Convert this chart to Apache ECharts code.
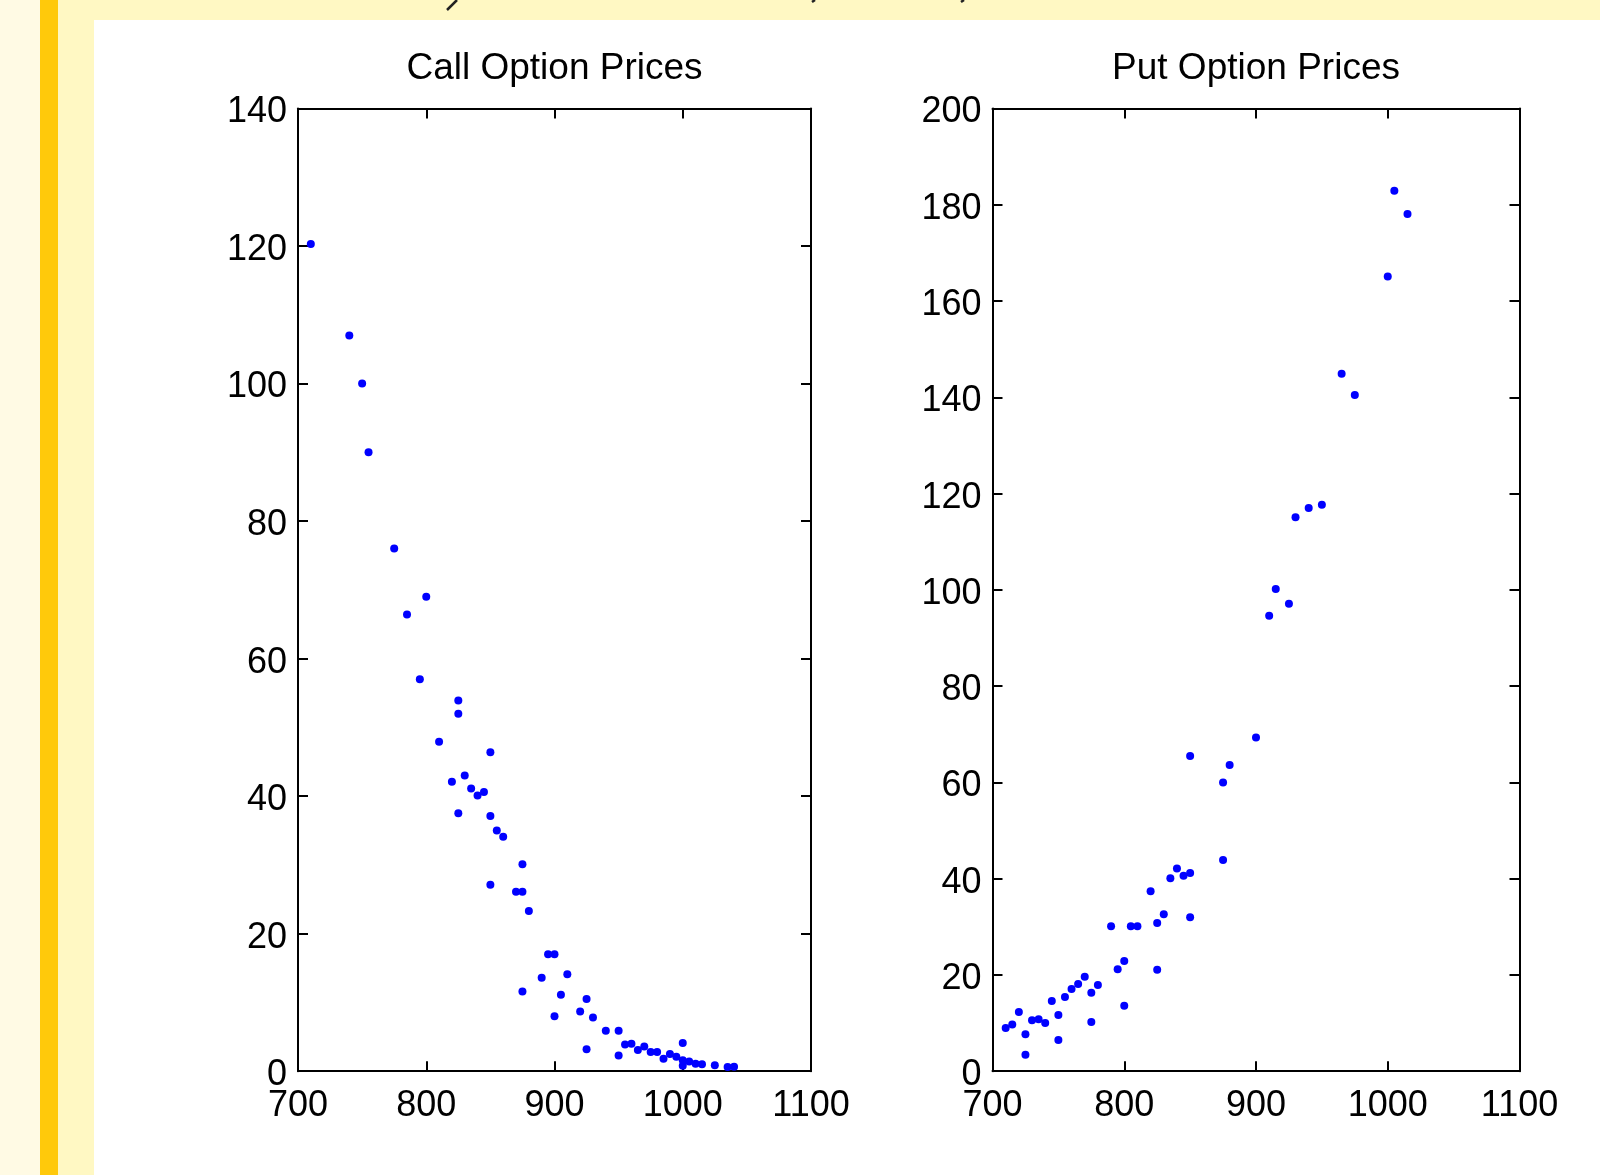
<!DOCTYPE html>
<html><head><meta charset="utf-8">
<script src="https://cdn.jsdelivr.net/npm/echarts@6/dist/echarts.min.js"></script>
<style>html,body{margin:0;padding:0;background:#fff}#c{width:1600px;height:1175px}</style>
</head><body><div id="c"></div>
<script>
// ---- data ----
const callStrikes = [710,740,750,755,775,785,795,800,810,820,825,825,825,830,835,840,845,850,850,850,855,860,870,875,875,875,880,890,895,900,900,905,910,920,925,925,930,940,950,950,955,960,965,970,975,980,985,990,995,1000,1000,1000,1005,1010,1015,1025,1035,1040];
const callPrices  = [120.3,107,100,90,76,66.4,57,69,47.9,42.1,53.9,52,37.5,43,41.1,40.1,40.6,46.4,37.1,27.1,35,34.1,26.1,30.1,26.1,11.6,23.3,13.6,17,17,8,11.1,14.1,8.7,10.5,3.2,7.8,5.9,5.9,2.3,3.9,4,3.1,3.6,2.8,2.8,1.8,2.5,2.1,4.1,1.6,0.8,1.4,1.1,1.0,0.85,0.6,0.65];
const putStrikes  = [710,715,720,725,725,730,735,740,745,750,750,755,760,765,770,775,775,780,790,795,800,800,805,810,820,825,825,830,835,840,845,850,850,850,875,875,880,900,910,915,925,930,940,950,965,975,1000,1005,1015];
const putPrices   = [9,9.7,12.3,7.7,3.4,10.6,10.8,10,14.6,11.7,6.5,15.4,17.1,18.1,19.6,16.3,10.2,17.9,30.1,21.2,22.9,13.6,30.1,30.1,37.4,30.8,21.1,32.6,40.1,42.1,40.6,41.2,32,65.5,43.9,60,63.6,69.3,94.6,100.2,97.1,115.1,117,117.7,144.9,140.5,165.1,182.9,178.1];
const xTickLabels = [700,800,900,1000,1100];
const callYTickLabels = [0,20,40,60,80,100,120,140];
const putYTickLabels = [0,20,40,60,80,100,120,140,160,180,200];
const chartTitles = ['Call Option Prices','Put Option Prices'];

// ---- chart ----
const F = '"Liberation Sans", Arial, Helvetica, sans-serif';
const grids = [
  {left:298, top:108.5, width:513, height:962.7, containLabel:false, outerBoundsMode:'none'},
  {left:992.5, top:108.5, width:527, height:962.7, containLabel:false, outerBoundsMode:'none'}
];
function rng(arr){ return {min:arr[0], max:arr[arr.length-1], interval:arr[1]-arr[0]}; }
function ax(gi, pos, ticks, labels){
  const r = rng(ticks);
  const isX = (pos==='bottom' || pos==='top');
  const lbl = {show:labels, margin: (isX?17:11), color:'#000', fontSize:36, fontFamily:F,
      formatter: v => String(v),
      showMinLabel:true, showMaxLabel:true, hideOverlap:false};
  if (!isX) { lbl.verticalAlign = 'top'; lbl.lineHeight = 8; }
  return Object.assign({type:'value', gridIndex:gi, position:pos}, r, {
    axisLine:{show:true, onZero:false, lineStyle:{color:'#000', width:2}},
    axisTick:{show:true, inside:true, length:10, lineStyle:{color:'#000', width:2}},
    axisLabel: lbl,
    splitLine:{show:false}
  });
}
const xAxes = [ax(0,'bottom',xTickLabels,true), ax(0,'top',xTickLabels,false), ax(1,'bottom',xTickLabels,true), ax(1,'top',xTickLabels,false)];
const yAxes = [ax(0,'left',callYTickLabels,true), ax(0,'right',callYTickLabels,false), ax(1,'left',putYTickLabels,true), ax(1,'right',putYTickLabels,false)];

const chart = echarts.init(document.getElementById('c'), null, {renderer:'canvas'});
chart.setOption({
  backgroundColor:'#ffffff',
  animation:false,
  grid: grids,
  xAxis: xAxes,
  yAxis: yAxes,
  graphic: [
    {type:'rect', shape:{x:0, y:0, width:40, height:1175}, style:{fill:'#FFFAE4'}, silent:true},
    {type:'rect', shape:{x:40, y:0, width:18, height:1175}, style:{fill:'#FFC90B'}, silent:true},
    {type:'rect', shape:{x:58, y:0, width:36, height:1175}, style:{fill:'#FFF8C3'}, silent:true},
    {type:'rect', shape:{x:58, y:0, width:1542, height:20}, style:{fill:'#FFF8C3'}, silent:true},
    {type:'line', shape:{x1:447, y1:10, x2:457, y2:0}, style:{stroke:'#222', lineWidth:2.5}, silent:true},
    {type:'line', shape:{x1:812, y1:2, x2:815, y2:0}, style:{stroke:'#222', lineWidth:2.5}, silent:true},
    {type:'line', shape:{x1:961, y1:2, x2:964, y2:0}, style:{stroke:'#222', lineWidth:2.5}, silent:true},
    {type:'text', x:554.5, y:69, style:{text:chartTitles[0], font:'37px '+F, fill:'#000', textAlign:'center', textVerticalAlign:'middle'}},
    {type:'text', x:1256, y:69, style:{text:chartTitles[1], font:'37px '+F, fill:'#000', textAlign:'center', textVerticalAlign:'middle'}}
  ],
  series: [
    {type:'scatter', xAxisIndex:0, yAxisIndex:0, symbol:'circle', symbolSize:8, itemStyle:{color:'#0000FF', opacity:1},
     data: callStrikes.map((x,i)=>[x, callPrices[i]])},
    {type:'scatter', xAxisIndex:2, yAxisIndex:2, symbol:'circle', symbolSize:8, itemStyle:{color:'#0000FF', opacity:1},
     data: putStrikes.map((x,i)=>[x, putPrices[i]])}
  ]
});
</script></body></html>
